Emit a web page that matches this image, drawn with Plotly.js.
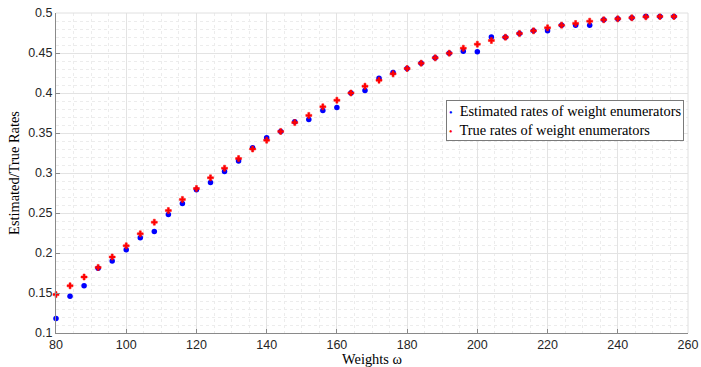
<!DOCTYPE html>
<html>
<head>
<meta charset="utf-8">
<script src="https://cdn.plot.ly/plotly-3.0.1.min.js"></script>
<style>html,body{margin:0;padding:0;background:#fff;}#chart{width:701px;height:367px;}</style>
</head>
<body>
<div id="chart"></div>
<script>
const weights = [80,84,88,92,96,100,104,108,112,116,120,124,128,132,136,140,144,148,152,156,160,164,168,172,176,180,184,188,192,196,200,204,208,212,216,220,224,228,232,236,240,244,248,252,256];
const estimatedRates = [0.118,0.146,0.159,0.181,0.190,0.204,0.219,0.227,0.248,0.262,0.279,0.288,0.302,0.315,0.3315,0.344,0.352,0.364,0.367,0.378,0.382,0.400,0.403,0.4185,0.4256,0.4306,0.4373,0.444,0.4498,0.4523,0.4515,0.470,0.4698,0.4744,0.4777,0.4777,0.4848,0.4848,0.4848,0.4915,0.4927,0.494,0.496,0.4956,0.4956];
const trueRates = [0.148,0.159,0.170,0.182,0.195,0.209,0.224,0.2385,0.253,0.267,0.2806,0.294,0.306,0.318,0.330,0.341,0.352,0.363,0.372,0.3827,0.391,0.400,0.4085,0.416,0.424,0.4306,0.4373,0.444,0.4498,0.456,0.461,0.4656,0.4698,0.4744,0.4777,0.4815,0.4848,0.4869,0.4898,0.4915,0.4927,0.494,0.4952,0.4956,0.4956];
const seriesNames = ["Estimated rates of weight enumerators","True rates of weight enumerators"];
const seriesColors = ['#0000ff', '#ff0000'];
const xTitle = "Weights ω";
const yTitle = "Estimated/True Rates";

const serif = "'Liberation Serif', 'Times New Roman', serif";
const sans = "'Liberation Sans', Arial, Helvetica, sans-serif";

const traces = [
  {x: weights, y: estimatedRates, name: seriesNames[0], type: 'scatter', mode: 'markers', cliponaxis: false,
   marker: {color: seriesColors[0], size: 5.5, symbol: 'circle', line: {width: 0}}},
  {x: weights, y: trueRates, name: seriesNames[1], type: 'scatter', mode: 'markers', cliponaxis: false,
   marker: {color: seriesColors[1], size: 5, symbol: 'cross', line: {width: 0.5, color: seriesColors[1]}}}
];

const axisCommon = {
  showline: true, linecolor: '#8a8a8a', linewidth: 1,
  ticks: 'inside', ticklen: 4, tickcolor: '#8a8a8a', tickwidth: 1,
  showgrid: true, gridcolor: '#e3e3e3', gridwidth: 1,
  zeroline: false,
  tickfont: {family: sans, size: 12.5, color: '#262626'},
};

const legendText = seriesNames.map((n, i) =>
  '<span style="color:' + seriesColors[i] + ';font-size:10px">•</span>  ' + n).join('<br>');

const layout = {
  width: 701, height: 367,
  margin: {l: 56, r: 13, t: 13, b: 34, pad: 0},
  paper_bgcolor: '#ffffff', plot_bgcolor: '#ffffff',
  showlegend: false,
  xaxis: Object.assign({}, axisCommon, {
    range: [80, 260], dtick: 20, tick0: 80,
    minor: {dtick: 5, showgrid: true, gridcolor: '#ececec', griddash: 'dot', gridwidth: 1},
    title: {text: xTitle, font: {family: serif, size: 14.4, color: '#000'}, standoff: 7}
  }),
  yaxis: Object.assign({}, axisCommon, {
    range: [0.1, 0.5], dtick: 0.05, tick0: 0.1,
    minor: {dtick: 0.01, showgrid: true, gridcolor: '#ececec', griddash: 'dot', gridwidth: 1},
    title: {text: yTitle, font: {family: serif, size: 14.4, color: '#000'}, standoff: 5}
  }),
  annotations: [{
    xref: 'paper', yref: 'paper', x: 0.9937, y: 0.727, xanchor: 'right', yanchor: 'top',
    text: legendText, showarrow: false, align: 'left',
    font: {family: serif, size: 14.4, color: '#000'},
    bgcolor: '#ffffff', bordercolor: '#7a7a7a', borderwidth: 1, borderpad: 2
  }],
  shapes: [
    {type: 'line', xref: 'paper', yref: 'paper', x0: 0, x1: 1, y0: 1, y1: 1, line: {color: '#e0e0e0', width: 1}},
    {type: 'line', xref: 'paper', yref: 'paper', x0: 1, x1: 1, y0: 0, y1: 1, line: {color: '#e0e0e0', width: 1}}
  ]
};

Plotly.newPlot('chart', traces, layout, {staticPlot: true, displayModeBar: false});
</script>
</body>
</html>
